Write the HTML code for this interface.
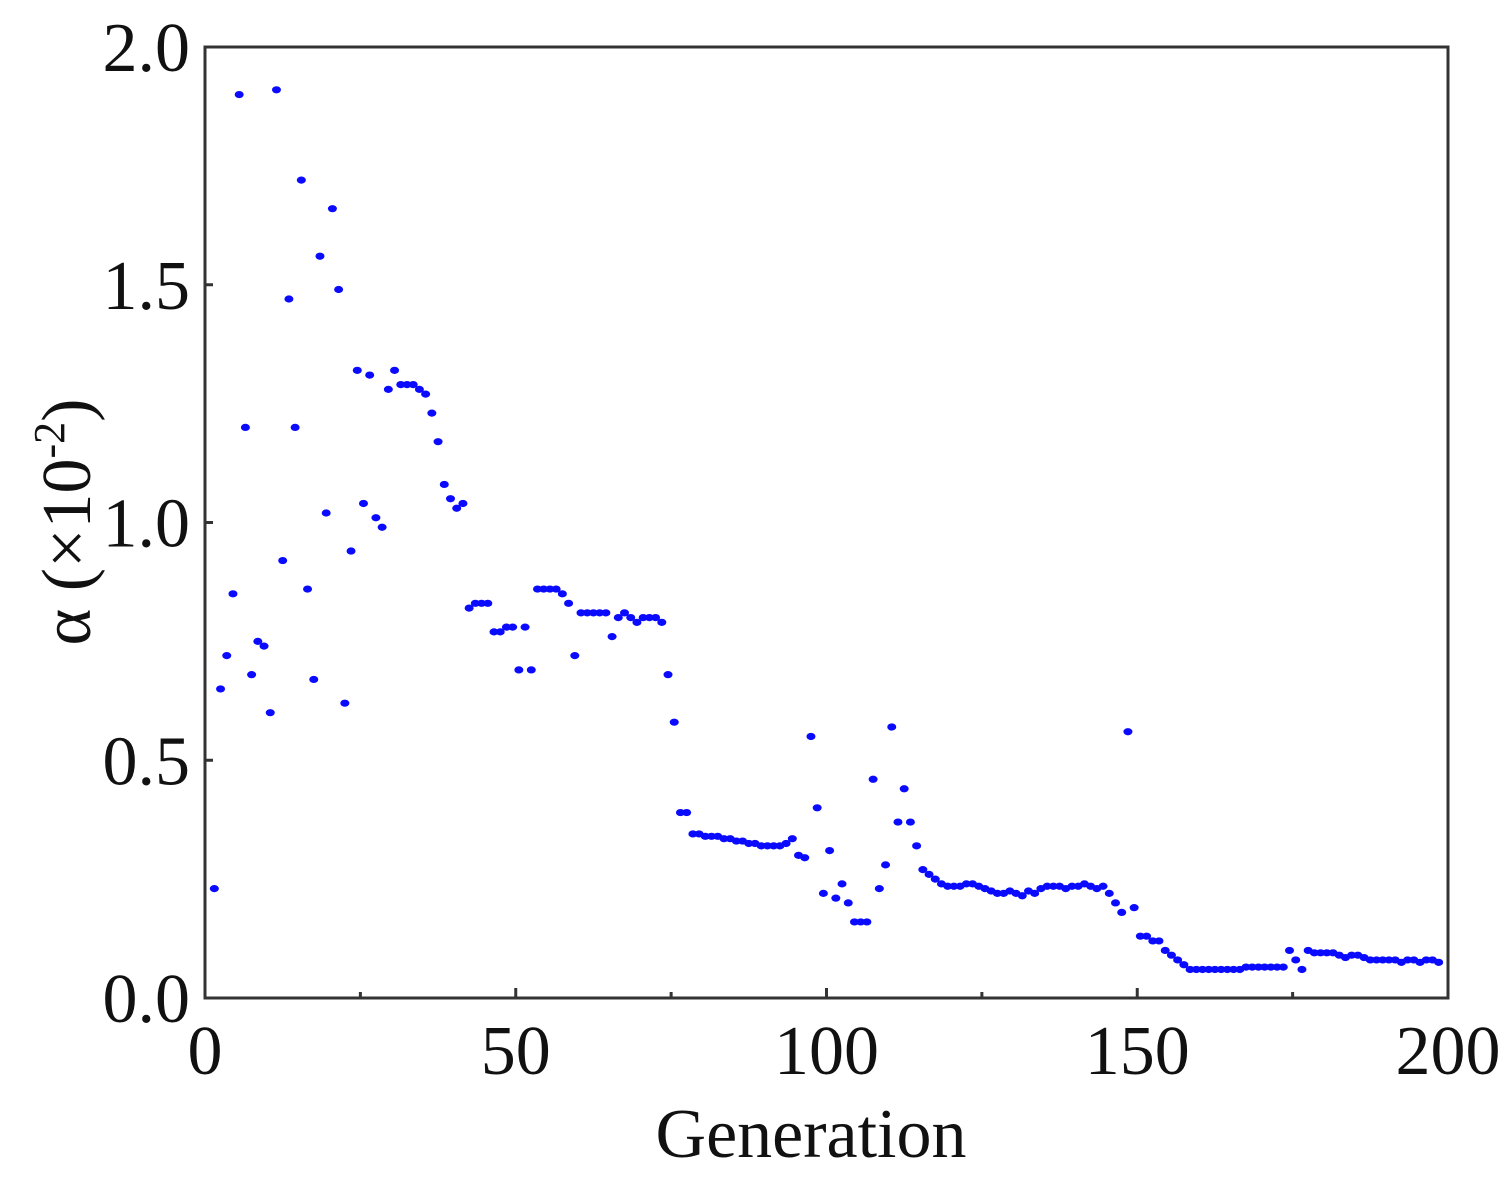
<!DOCTYPE html>
<html><head><meta charset="utf-8"><style>
body{margin:0;background:#fff;}
svg text{font-family:"Liberation Serif",serif;fill:#111;}
</style></head><body>
<svg id="chart" width="1507" height="1177" xmlns="http://www.w3.org/2000/svg">
<rect x="205" y="47" width="1243" height="951" fill="#fff" stroke="#333" stroke-width="3"/>
<g id="ticks"></g>
<g id="points"></g>
<text x="811" y="1157" font-size="70" text-anchor="middle">Generation</text>
<text transform="translate(90,522) rotate(-90)" font-size="70" text-anchor="middle">α (×10<tspan dy="-26" font-size="44">-2</tspan><tspan dy="26">)</tspan></text>
</svg>
<script>
const xTicks=[0,50,100,150,200];
const yTicks=[0.0,0.5,1.0,1.5,2.0];
const yTickLabels=["0.0","0.5","1.0","1.5","2.0"];
const gens=[1,2,3,4,5,6,7,8,9,10,11,12,13,14,15,16,17,18,19,20,21,22,23,24,25,26,27,28,29,30,31,32,33,34,35,36,37,38,39,40,41,42,43,44,45,46,47,48,49,50,51,52,53,54,55,56,57,58,59,60,61,62,63,64,65,66,67,68,69,70,71,72,73,74,75,76,77,78,79,80,81,82,83,84,85,86,87,88,89,90,91,92,93,94,95,96,97,98,99,100,101,102,103,104,105,106,107,108,109,110,111,112,113,114,115,116,117,118,119,120,121,122,123,124,125,126,127,128,129,130,131,132,133,134,135,136,137,138,139,140,141,142,143,144,145,146,147,148,149,150,151,152,153,154,155,156,157,158,159,160,161,162,163,164,165,166,167,168,169,170,171,172,173,174,175,176,177,178,179,180,181,182,183,184,185,186,187,188,189,190,191,192,193,194,195,196,197,198,199];
const alpha=[0.23,0.65,0.72,0.85,1.90,1.20,0.68,0.75,0.74,0.60,1.91,0.92,1.47,1.20,1.72,0.86,0.67,1.56,1.02,1.66,1.49,0.62,0.94,1.32,1.04,1.31,1.01,0.99,1.28,1.32,1.29,1.29,1.29,1.28,1.27,1.23,1.17,1.08,1.05,1.03,1.04,0.82,0.83,0.83,0.83,0.77,0.77,0.78,0.78,0.69,0.78,0.69,0.86,0.86,0.86,0.86,0.85,0.83,0.72,0.81,0.81,0.81,0.81,0.81,0.76,0.80,0.81,0.80,0.79,0.80,0.80,0.80,0.79,0.68,0.58,0.39,0.39,0.345,0.345,0.34,0.34,0.34,0.335,0.335,0.33,0.33,0.325,0.325,0.32,0.32,0.32,0.32,0.325,0.335,0.30,0.295,0.55,0.40,0.22,0.31,0.21,0.24,0.20,0.16,0.16,0.16,0.46,0.23,0.28,0.57,0.37,0.44,0.37,0.32,0.27,0.26,0.25,0.24,0.235,0.235,0.235,0.24,0.24,0.235,0.23,0.225,0.22,0.22,0.225,0.22,0.215,0.225,0.22,0.23,0.235,0.235,0.235,0.23,0.235,0.235,0.24,0.235,0.23,0.235,0.22,0.20,0.18,0.56,0.19,0.13,0.13,0.12,0.12,0.10,0.09,0.08,0.07,0.06,0.06,0.06,0.06,0.06,0.06,0.06,0.06,0.06,0.065,0.065,0.065,0.065,0.065,0.065,0.065,0.10,0.08,0.06,0.10,0.095,0.095,0.095,0.095,0.09,0.085,0.09,0.09,0.085,0.08,0.08,0.08,0.08,0.08,0.075,0.08,0.08,0.075,0.08,0.08,0.075];
const NS="http://www.w3.org/2000/svg";
const X=v=>205+(v/200)*1243;
const Y=v=>998-(v/2)*951;
const tg=document.getElementById('ticks');
for(let v=0;v<=200;v+=25){
  const l=document.createElementNS(NS,'line');
  
  
  l.setAttribute('x1',X(v));l.setAttribute('x2',X(v));l.setAttribute('y1',998);l.setAttribute('y2',v%50?992:988);
  l.setAttribute('stroke','#333');l.setAttribute('stroke-width',3);tg.appendChild(l);
}
xTicks.forEach(v=>{
  const t=document.createElementNS(NS,'text');
  
  
  t.setAttribute('x',X(v));t.setAttribute('y',1074);t.setAttribute('font-size','70');t.setAttribute('text-anchor','middle');
  t.textContent=v;tg.appendChild(t);
});
yTicks.forEach((v,i)=>{
  const l=document.createElementNS(NS,'line');
  
  
  l.setAttribute('x1',205);l.setAttribute('x2',213);l.setAttribute('y1',Y(v));l.setAttribute('y2',Y(v));
  l.setAttribute('stroke','#333');l.setAttribute('stroke-width',3);tg.appendChild(l);
  const t=document.createElementNS(NS,'text');
  
  
  t.setAttribute('x',190);t.setAttribute('y',Y(v)+24);t.setAttribute('font-size','70');t.setAttribute('text-anchor','end');
  t.textContent=yTickLabels[i];tg.appendChild(t);
});
const pg=document.getElementById('points');
gens.forEach((g,i)=>{
  if(alpha[i]===undefined) return;
  const c=document.createElementNS(NS,'ellipse');
  
  
  c.setAttribute('cx',X(g+0.5));c.setAttribute('cy',Y(alpha[i]));c.setAttribute('rx',4.5);c.setAttribute('ry',3.6);
  c.setAttribute('fill','#0a0aff');pg.appendChild(c);
});
</script>
</body></html>
